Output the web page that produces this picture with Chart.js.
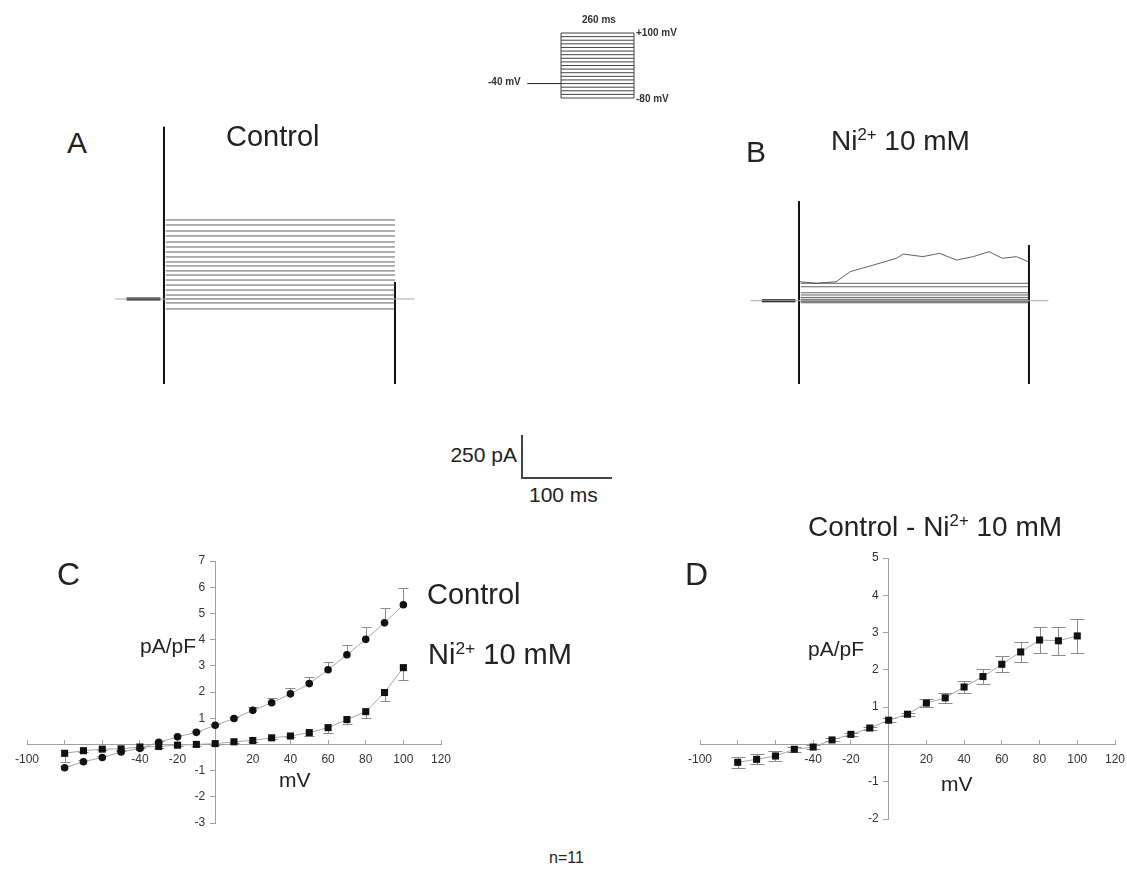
<!DOCTYPE html>
<html>
<head>
<meta charset="utf-8">
<script src="https://cdn.jsdelivr.net/npm/chart.js@4.4.1/dist/chart.umd.min.js"></script>
<style>
  body { margin: 0; background: #fff; }
  #fig { position: relative; width: 1127px; height: 872px; overflow: hidden; font-family: "Liberation Sans", Arial, sans-serif; color: #222; }
  #fig canvas { position: absolute; }
  .lbl { position: absolute; line-height: 1; white-space: nowrap; }
  .sup { font-size: 0.6em; position: relative; top: -0.6em; }
  .proto { font-size: 10px; font-weight: bold; color: #333; }
  .scalebar { position: absolute; left: 521px; top: 435px; width: 91px; height: 44px; box-sizing: border-box; border-left: 2px solid #444; border-bottom: 2px solid #444; }
</style>
</head>
<body>
<div id="fig">
  <canvas id="chart-proto" width="200" height="100" style="left:480px;top:10px"></canvas>
  <canvas id="chart-a" width="330" height="290" style="left:100px;top:110px"></canvas>
  <canvas id="chart-b" width="330" height="290" style="left:740px;top:110px"></canvas>
  <canvas id="chart-c" width="454" height="302" style="left:7px;top:541px"></canvas>
  <canvas id="chart-d" width="455" height="301" style="left:680px;top:538px"></canvas>

  <div class="lbl proto" style="left:582px;top:15px">260 ms</div>
  <div class="lbl proto" style="left:636px;top:28px">+100 mV</div>
  <div class="lbl proto" style="left:636px;top:94px">-80 mV</div>
  <div class="lbl proto" style="left:488px;top:77px">-40 mV</div>

  <div class="lbl" style="left:67px;top:128px;font-size:30px">A</div>
  <div class="lbl" style="left:226px;top:122px;font-size:29px">Control</div>
  <div class="lbl" style="left:746px;top:137px;font-size:30px">B</div>
  <div class="lbl" style="left:831px;top:127px;font-size:28px">Ni<span class="sup">2+</span> 10 mM</div>

  <div class="scalebar"></div>
  <div class="lbl" style="right:610px;top:444px;font-size:21px">250 pA</div>
  <div class="lbl" style="left:529px;top:484px;font-size:21px">100 ms</div>

  <div class="lbl" style="left:57px;top:558px;font-size:32px">C</div>
  <div class="lbl" style="left:427px;top:580px;font-size:29px">Control</div>
  <div class="lbl" style="left:428px;top:640px;font-size:29px">Ni<span class="sup">2+</span> 10 mM</div>
  <div class="lbl" style="left:140px;top:635px;font-size:21px">pA/pF</div>
  <div class="lbl" style="left:279px;top:769px;font-size:21px">mV</div>

  <div class="lbl" style="left:685px;top:558px;font-size:32px">D</div>
  <div class="lbl" style="left:808px;top:513px;font-size:28px">Control - Ni<span class="sup">2+</span> 10 mM</div>
  <div class="lbl" style="left:808px;top:638px;font-size:21px">pA/pF</div>
  <div class="lbl" style="left:941px;top:773px;font-size:21px">mV</div>

  <div class="lbl" style="left:549px;top:850px;font-size:16px">n=11</div>
</div>

<script>
  // 電位 (mV)
  var voltages = [-80, -70, -60, -50, -40, -30, -20, -10, 0, 10, 20, 30, 40, 50, 60, 70, 80, 90, 100];

  // C: I-V (pA/pF)
  var controlIV  = [-0.89, -0.66, -0.50, -0.29, -0.15, 0.08, 0.29, 0.46, 0.73, 0.99, 1.30, 1.59, 1.93, 2.32, 2.85, 3.42, 4.01, 4.64, 5.33];
  var controlSem = [0.05, 0.05, 0.05, 0.05, 0.05, 0.05, 0.05, 0.05, 0.05, 0.05, 0.11, 0.17, 0.23, 0.24, 0.29, 0.37, 0.48, 0.55, 0.65];
  var nickelIV   = [-0.34, -0.24, -0.18, -0.17, -0.10, -0.08, -0.03, 0.00, 0.03, 0.10, 0.15, 0.25, 0.32, 0.45, 0.64, 0.95, 1.25, 1.98, 2.93];
  var nickelSem  = [0.35, 0.05, 0.05, 0.05, 0.05, 0.05, 0.05, 0.05, 0.05, 0.05, 0.05, 0.05, 0.05, 0.13, 0.19, 0.19, 0.26, 0.34, 0.47];

  // D: Control - Ni (pA/pF)
  var diffIV  = [-0.48, -0.40, -0.31, -0.13, -0.07, 0.12, 0.27, 0.44, 0.65, 0.81, 1.11, 1.25, 1.54, 1.82, 2.15, 2.48, 2.80, 2.78, 2.91];
  var diffSem = [0.14, 0.13, 0.13, 0.06, 0.05, 0.04, 0.04, 0.04, 0.05, 0.04, 0.10, 0.13, 0.16, 0.21, 0.21, 0.27, 0.35, 0.37, 0.45];

  // 軸目盛
  var ivXTicksHidden = [-80, -60, 0];

  // プロトコル (ms, mV)
  var holdingPotential = -40;
  var holdingStart = -120;
  var pulseStart = 0;
  var pulseEnd = 260;

  // A: 対照の電流トレース定常レベル (pA)
  var controlLevels = [459, 430, 395, 366, 331, 302, 273, 244, 215, 192, 163, 139, 110, 81, 52, 23, 0, -23, -58];
  var controlOnTransient = [1000, -494];
  var controlOffTransient = [99, -494];

  // B: Ni2+ のトレース (pA)
  var nickelLevels = [101, 81, 46, 33, 19, 8, 0, -6, -12];
  var nickelTopT  = [1, 20, 42, 58, 84, 110, 118, 140, 159, 178, 197, 215, 230, 246, 259];
  var nickelTopPA = [110, 101, 110, 169, 207, 246, 271, 256, 275, 236, 256, 285, 246, 256, 227];
  var nickelOnTransient = [579, -484];
  var nickelOffTransient = [323, -484];

  // 保持電位区間 (ms)
  var prePulse = [-42, -4];
  var baselineSpan = [-55, 282];

  var zeroPad = function(s) { s.paddingLeft = s.paddingRight = s.paddingTop = s.paddingBottom = 0; };

  /** エラーバー描画 */
  var errorBarPlugin = {
    id: 'errorBars',
    beforeDatasetsDraw: function(chart) {
      var ctx = chart.ctx;
      var xs = chart.scales.x, ys = chart.scales.y;
      chart.data.datasets.forEach(function(ds) {
        if (!ds.errors) return;
        ctx.save();
        ctx.strokeStyle = '#8a8a8a';
        ctx.lineWidth = 1;
        ds.data.forEach(function(p, j) {
          var e = ds.errors[j];
          var px = Math.round(xs.getPixelForValue(p.x)) + 0.5;
          var ends = [];
          if (ds.errorDir !== 'down') ends.push(p.y + e);
          if (ds.errorDir !== 'up') ends.push(p.y - e);
          ends.forEach(function(v) {
            var py = Math.round(ys.getPixelForValue(v)) + 0.5;
            ctx.beginPath();
            ctx.moveTo(px, ys.getPixelForValue(p.y));
            ctx.lineTo(px, py);
            ctx.moveTo(px - ds.capHalf, py);
            ctx.lineTo(px + ds.capHalf, py);
            ctx.stroke();
          });
        });
        ctx.restore();
      });
    }
  };

  function pts(xs, ys) {
    return xs.map(function(x, i) { return { x: x, y: ys[i] }; });
  }

  function seg(x0, x1, y0, y1, color, width) {
    return { data: [{ x: x0, y: y0 }, { x: x1, y: y1 }], borderColor: color, borderWidth: width, showLine: true, pointRadius: 0 };
  }

  function hiddenScales(xMin, xMax, yMin, yMax) {
    return {
      x: { type: 'linear', display: false, min: xMin, max: xMax },
      y: { type: 'linear', display: false, min: yMin, max: yMax }
    };
  }

  function baseOptions(scales, padding) {
    return {
      responsive: false,
      animation: false,
      events: [],
      layout: { padding: padding },
      plugins: { legend: { display: false }, tooltip: { enabled: false } },
      scales: scales
    };
  }

  /** 刺激プロトコル */
  function drawProtocol() {
    var ds = [seg(holdingStart, pulseStart, holdingPotential, holdingPotential, '#222', 1)];
    voltages.forEach(function(v) { ds.push(seg(pulseStart, pulseEnd, v, v, '#444', 1)); });
    ds.push(seg(pulseStart, pulseStart, voltages[0], voltages[voltages.length - 1], '#444', 1));
    ds.push(seg(pulseEnd, pulseEnd, voltages[0], voltages[voltages.length - 1], '#444', 1));
    new Chart(document.getElementById('chart-proto'), {
      type: 'scatter',
      data: { datasets: ds },
      options: baseOptions(hiddenScales(-288.5, 423.8, -113.2, 163.7), 0)
    });
  }

  /** 電流トレース */
  function drawTraces(id, levels, onT, offT, extra, scales) {
    var ds = [seg(baselineSpan[0], baselineSpan[1], 0, 0, '#a8a8a8', 1)];
    ds.push(seg(prePulse[0], prePulse[1], 0, 0, '#111', 3));
    levels.forEach(function(lv) { ds.push(seg(pulseStart + 2, pulseEnd, lv, lv, 'rgba(70,70,70,0.85)', 1)); });
    extra.forEach(function(d) { ds.push(d); });
    ds.push(seg(pulseStart, pulseStart, onT[1], onT[0], '#111', 2));
    ds.push(seg(pulseEnd, pulseEnd, offT[1], offT[0], '#111', 2));
    new Chart(document.getElementById(id), {
      type: 'scatter',
      data: { datasets: ds },
      options: baseOptions(scales, 0)
    });
  }

  function ivScales(yMin, yMax, xPad) {
    var tickFont = { size: 12, family: '"Liberation Sans", Arial, sans-serif' };
    return {
      x: {
        type: 'linear', min: -100, max: 120, position: { y: 0 },
        border: { color: '#a0a0a0', width: 1 },
        grid: { drawOnChartArea: false, color: '#a0a0a0', tickLength: -5 },
        ticks: { stepSize: 20, color: '#333', font: tickFont, padding: xPad,
          callback: function(v) { return ivXTicksHidden.indexOf(v) >= 0 ? '' : v; } },
        afterFit: zeroPad
      },
      y: {
        type: 'linear', min: yMin, max: yMax, position: { x: 0 },
        border: { color: '#a0a0a0', width: 1 },
        grid: { drawOnChartArea: false, color: '#a0a0a0', tickLength: 5 },
        // 軸上の右揃えラベルを左へずらすため末尾に空白
        ticks: { stepSize: 1, color: '#333', font: tickFont,
          callback: function(v) { return v === 0 ? '' : v + '   '; } },
        afterFit: zeroPad
      }
    };
  }

  function ivDataset(values, sem, dir, style, radius, capHalf) {
    return {
      data: pts(voltages, values),
      errors: sem, errorDir: dir, capHalf: capHalf,
      showLine: true, borderColor: '#a8a8a8', borderWidth: 1,
      pointStyle: style, pointRadius: radius,
      pointBackgroundColor: '#111', pointBorderColor: '#111', pointBorderWidth: 0
    };
  }

  function drawIV() {
    new Chart(document.getElementById('chart-c'), {
      type: 'scatter',
      data: { datasets: [
        ivDataset(nickelIV, nickelSem, 'down', 'rect', 5, 5),
        ivDataset(controlIV, controlSem, 'up', 'circle', 3.8, 5)
      ] },
      options: baseOptions(ivScales(-3, 7, 13), 20),
      plugins: [errorBarPlugin]
    });
    new Chart(document.getElementById('chart-d'), {
      type: 'scatter',
      data: { datasets: [ivDataset(diffIV, diffSem, 'both', 'rect', 5, 7)] },
      options: baseOptions(ivScales(-2, 5, 13), 20),
      plugins: [errorBarPlugin]
    });
  }

  drawProtocol();
  drawTraces('chart-a', controlLevels, controlOnTransient, controlOffTransient, [],
    hiddenScales(-72, 299.4, -587, 1098));
  var nickelTop = { data: pts(nickelTopT, nickelTopPA), borderColor: 'rgba(70,70,70,0.85)', borderWidth: 1, showLine: true, pointRadius: 0 };
  drawTraces('chart-b', nickelLevels, nickelOnTransient, nickelOffTransient, [nickelTop],
    hiddenScales(-66.7, 306.4, -577, 1108));
  drawIV();
</script>
</body>
</html>
